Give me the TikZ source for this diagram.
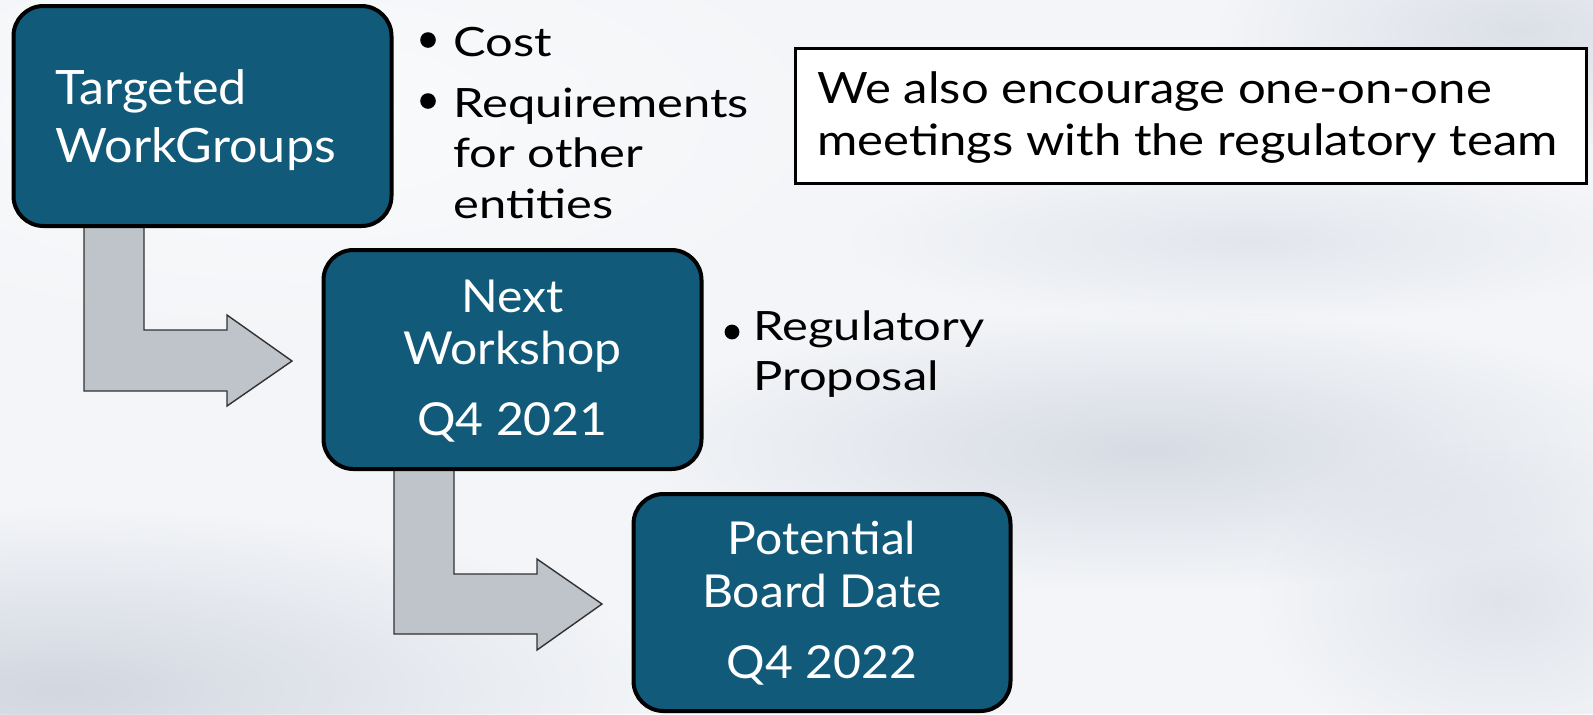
\documentclass[tikz,border=0pt]{standalone}
\usepackage{fontspec}
\setmainfont{Lato}
\newfontfamily\boxfont{Lato}[FakeStretch=1.06]
\newfontfamily\bulletfont{Lato}[FakeStretch=1.21]
\newfontfamily\notefont{Lato}[FakeStretch=1.135]
\usetikzlibrary{fadings}
\definecolor{boxblue}{RGB}{17,90,122}
\definecolor{arrowgray}{RGB}{190,196,202}
\definecolor{arrowline}{RGB}{50,50,50}
\definecolor{bgbase}{RGB}{243,245,248}
\definecolor{cloud}{RGB}{196,202,214}
\tikzfading[name=softspot, inner color=transparent!0, outer color=transparent!100]
\begin{document}
\begin{tikzpicture}[x=0.5pt,y=-0.5pt,
  bluebox/.style={draw=black, line width=2pt, fill=boxblue, rounded corners=15pt, inner sep=0pt},
  notebox/.style={draw=black, line width=1.6pt, fill=white, inner sep=0pt},
  bentarrow/.style={draw=arrowline, line width=0.7pt, fill=arrowgray, line join=miter},
  bigtxt/.style={text=white, inner sep=0pt, font=\boxfont\fontsize{23.7pt}{29pt}\selectfont},
  midtxt/.style={text=white, inner sep=0pt, font=\boxfont\fontsize{22.7pt}{26pt}\selectfont},
  bullettxt/.style={text=black, inner sep=0pt, anchor=base west, font=\bulletfont\fontsize{20.2pt}{25pt}\selectfont},
  notetxt/.style={text=black, inner sep=0pt, anchor=base west, font=\notefont\fontsize{21.6pt}{26pt}\selectfont},
  dot/.style={fill=black}
]
% background
\useasboundingbox (0,0) rectangle (1593,714);
\fill[bgbase] (0,0) rectangle (1593,714);
\begin{scope}
\clip (0,0) rectangle (1593,714);
\fill[cloud, path fading=softspot, opacity=0.7] (60,690) ellipse (300pt and 90pt);
\fill[cloud, path fading=softspot, opacity=0.6] (1150,450) ellipse (260pt and 70pt);
\fill[cloud, path fading=softspot, opacity=0.5] (1520,30) ellipse (150pt and 60pt);
\fill[cloud, path fading=softspot, opacity=0.35] (1250,240) ellipse (200pt and 40pt);
\fill[cloud, path fading=softspot, opacity=0.4] (1500,600) ellipse (120pt and 80pt);
\fill[white, path fading=softspot, opacity=0.6] (300,120) ellipse (300pt and 120pt);
\end{scope}

% bent arrows
\draw[bentarrow] (84,222) -- (144,222) -- (144,330) -- (227,330) -- (227,315)
  -- (292,361) -- (227,406) -- (227,391) -- (84,391) -- cycle;
\draw[bentarrow] (394,466) -- (454,466) -- (454,574) -- (537,574) -- (537,559)
  -- (602,604) -- (537,650) -- (537,634) -- (394,634) -- cycle;

% boxes
\node[bluebox, minimum width=189pt, minimum height=110pt] (b1) at (202.5,116) {};
\node[bluebox, minimum width=189pt, minimum height=109.5pt] (b2) at (512.5,359.5) {};
\node[bluebox, minimum width=188.5pt, minimum height=108.5pt] (b3) at (822,602.5) {};
\node[notebox, minimum width=395.5pt, minimum height=67.5pt] (note) at (1191,116) {};

% box texts
\node[bigtxt, anchor=base west] (t1a) at (55,104) {Targeted};
\node[bigtxt, anchor=base west] (t1b) at (55,162) {WorkGroups};
\node[midtxt, anchor=base] (t2a) at (512.5,312) {Next};
\node[midtxt, anchor=base] (t2b) at (512.5,364) {Workshop};
\node[midtxt, anchor=base] (t2c) at (512.5,435) {Q4 2021};
\node[midtxt, anchor=base] (t3a) at (822,554) {Potential};
\node[midtxt, anchor=base] (t3b) at (822,607) {Board Date};
\node[midtxt, anchor=base] (t3c) at (822,678) {Q4 2022};

% bullets
\fill[dot] (428,40) circle[radius=3.9pt];
\fill[dot] (428,101) circle[radius=3.9pt];
\fill[dot] (732,332) circle[radius=3.7pt];
\node[bullettxt] (c1) at (453,56) {Cost};
\node[bullettxt] (c2) at (453,117) {Requirements};
\node[bullettxt] (c3) at (453,167) {for other};
\node[bullettxt] (c4) at (453,218) {entities};
\node[bullettxt] (r1) at (753,340) {Regulatory};
\node[bullettxt] (r2) at (753,390) {Proposal};

% note text
\node[notetxt] (n1) at (817,103) {We also encourage one-on-one};
\node[notetxt] (n2) at (817,155) {meetings with the regulatory team};
\end{tikzpicture}
\end{document}
